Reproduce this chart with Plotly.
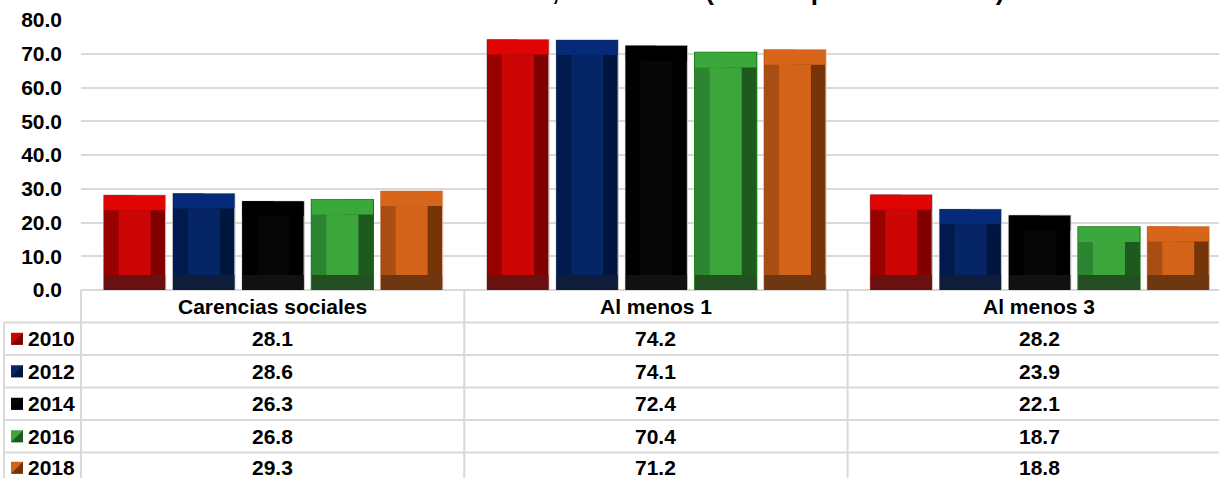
import plotly.graph_objects as go

# ---------------- data ----------------
categories = ["Carencias sociales", "Al menos 1", "Al menos 3"]
years = ["2010", "2012", "2014", "2016", "2018"]
v2010 = [28.1, 74.2, 28.2]
v2012 = [28.6, 74.1, 23.9]
v2014 = [26.3, 72.4, 22.1]
v2016 = [26.8, 70.4, 18.7]
v2018 = [29.3, 71.2, 18.8]
series = [v2010, v2012, v2014, v2016, v2018]
title_text = "Carencias sociales en México, 2010-2018. (% de la población total)."
y_ticks = [0, 10, 20, 30, 40, 50, 60, 70, 80]

# ---------------- styles ----------------
# (top, face, left side, right side, bottom, outline)
palettes = [
    ("#e00404", "#cc0505", "#990000", "#800000", "#6b1010", "#c8c8c8"),
    ("#042a78", "#062567", "#001a4d", "#00163f", "#0f1d3a", "#c8c8c8"),
    ("#000000", "#060606", "#000000", "#000000", "#111111", "#c8c8c8"),
    ("#3aa83a", "#3ca63c", "#2e8531", "#1e5a1e", "#234f23", "#0a7a0a"),
    ("#d8661a", "#d4631a", "#a84e12", "#753508", "#6e3712", "#e0b8a0"),
]

W, H = 1219, 478
FONT = "Liberation Sans, Arial, sans-serif"
FS = 21
GRID = "#d9d9d9"

x_left_px = 81
px_per_cat = 383.3
x_range = [-0.5, -0.5 + (W - x_left_px) / px_per_cat]
y0_px, y80_px = 290, 20
px_per_unit = (y0_px - y80_px) / 80.0

bar_w = 62 / px_per_cat
slot = 69.25 / px_per_cat
group_left = -169 / px_per_cat
bev_x = 15 / px_per_cat
bev_y = 15 / px_per_unit

xs = list(range(len(categories)))

fig = go.Figure()
for i, (yr, vals, pal) in enumerate(zip(years, series, palettes)):
    top, face, lside, rside, bottom, outline = pal
    off = group_left + i * slot
    # full bar (right side colour)
    fig.add_trace(go.Bar(x=xs, y=vals, width=bar_w, offset=off, name=yr,
                         marker=dict(color=rside, line=dict(color=outline, width=1.2)),
                         showlegend=False, hoverinfo="skip"))
    # left side
    fig.add_trace(go.Bar(x=xs, y=vals, width=bar_w / 2, offset=off,
                         marker=dict(color=lside, line=dict(width=0)),
                         showlegend=False, hoverinfo="skip"))
    # bottom bevel
    fig.add_trace(go.Bar(x=xs, y=[bev_y] * len(vals), base=[0] * len(vals),
                         width=bar_w - 0.002, offset=off + 0.001,
                         marker=dict(color=bottom, line=dict(width=0)),
                         showlegend=False, hoverinfo="skip"))
    # top bevel
    fig.add_trace(go.Bar(x=xs, y=[bev_y] * len(vals), base=[v - bev_y for v in vals],
                         width=bar_w - 0.002, offset=off + 0.001,
                         marker=dict(color=top, line=dict(width=0)),
                         showlegend=False, hoverinfo="skip"))
    # face
    fig.add_trace(go.Bar(x=xs, y=[v - 2 * bev_y for v in vals], base=[bev_y] * len(vals),
                         width=bar_w - 2 * bev_x, offset=off + bev_x,
                         marker=dict(color=face, line=dict(width=0)),
                         showlegend=False, hoverinfo="skip"))

def py(p):
    return 1 - p / H

def pxp(p):
    return p / W

shapes = []
annotations = []
line = dict(color=GRID, width=2)

header_top = 290
row_h = 32.5
n_rows = len(years)
row_tops = [header_top + row_h * (k + 1) for k in range(n_rows)]

# header top line (axis baseline)
shapes.append(dict(type="line", xref="paper", yref="paper", x0=pxp(81), x1=1,
                   y0=py(header_top), y1=py(header_top), line=line, layer="below"))
for t in row_tops:
    shapes.append(dict(type="line", xref="paper", yref="paper", x0=pxp(4), x1=1,
                       y0=py(t), y1=py(t), line=line))
# vertical lines
shapes.append(dict(type="line", xref="paper", yref="paper", x0=pxp(81), x1=pxp(81),
                   y0=py(header_top), y1=0, line=line))
shapes.append(dict(type="line", xref="paper", yref="paper", x0=pxp(4), x1=pxp(4),
                   y0=py(row_tops[0]), y1=0, line=line))
for b in [0.5, 1.5]:
    shapes.append(dict(type="line", xref="x", yref="paper", x0=b, x1=b,
                       y0=py(header_top), y1=0, line=line))

# header text
for k, c in enumerate(categories):
    annotations.append(dict(x=k, xref="x", y=py(header_top + row_h / 2), yref="paper",
                            text=f"<b>{c}</b>", showarrow=False, xanchor="center",
                            yanchor="middle", font=dict(family=FONT, size=FS, color="#000")))

# rows
for r, (yr, vals, pal) in enumerate(zip(years, series, palettes)):
    top, face, lside, rside, bottom, outline = pal
    cy = row_tops[r] + row_h / 2 - (1 if r == n_rows - 1 else 0)
    # legend key
    shapes.append(dict(type="rect", xref="paper", yref="paper",
                       x0=pxp(11), x1=pxp(23), y0=py(cy + 6), y1=py(cy - 6),
                       fillcolor=face, line=dict(width=0)))
    shapes.append(dict(type="path", xref="paper", yref="paper",
                       path=f"M {pxp(11)},{py(cy + 6)} L {pxp(23)},{py(cy + 6)} L {pxp(23)},{py(cy - 6)} Z",
                       fillcolor=rside, line=dict(width=0)))
    annotations.append(dict(x=pxp(26), xref="paper", y=py(cy), yref="paper",
                            text=f"<b>{yr}</b>", showarrow=False, xanchor="left",
                            yanchor="middle", font=dict(family=FONT, size=FS, color="#000")))
    for k, v in enumerate(vals):
        annotations.append(dict(x=k, xref="x", y=py(cy), yref="paper",
                                text=f"<b>{v:.1f}</b>", showarrow=False, xanchor="center",
                                yanchor="middle", font=dict(family=FONT, size=FS, color="#000")))

# title (partially cut at top, as in the reference)
annotations.append(dict(x=pxp(598), xref="paper", y=1 + 8.5 / H, yref="paper",
                        text=f"<b>{title_text}</b>", showarrow=False, xanchor="center",
                        yanchor="middle", font=dict(family=FONT, size=26, color="#000")))

fig.update_layout(
    width=W, height=H,
    margin=dict(l=0, r=0, t=0, b=0, pad=0, autoexpand=False),
    paper_bgcolor="white", plot_bgcolor="white",
    barmode="overlay",
    showlegend=False,
    xaxis=dict(domain=[pxp(x_left_px), 1], range=x_range, showticklabels=False,
               showgrid=False, zeroline=False, showline=False, ticks=""),
    yaxis=dict(domain=[py(y0_px), py(y80_px)], range=[0, 80], tickvals=y_ticks,
               ticktext=[f"<b>{t:.1f}</b>" for t in y_ticks],
               tickfont=dict(family=FONT, size=FS, color="#000"),
               showgrid=True, gridcolor=GRID, gridwidth=1.5, zeroline=False,
               showline=False, ticks="", ticklabelstandoff=18),
    shapes=shapes,
    annotations=annotations,
)

fig.write_html("out.html", config={"displayModeBar": False},
               post_script="document.body.style.margin='0';document.body.style.overflow='hidden';")
